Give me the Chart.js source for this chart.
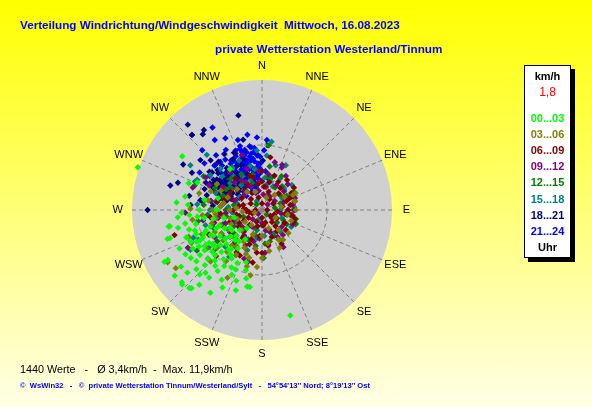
<!DOCTYPE html>
<html>
<head>
<meta charset="utf-8">
<script src="https://cdn.jsdelivr.net/npm/chart.js@4/dist/chart.umd.min.js"></script>
<style>
  body { margin: 0; }
  #wrap { position: relative; width: 592px; height: 407px; overflow: hidden;
          background: linear-gradient(#ffff00, #ffffe6); font-family: "Liberation Sans", Arial, sans-serif; }
  #chart { position: absolute; left: 0; top: 0; }
  .txt { position: absolute; white-space: pre; line-height: 14px; }
  .title { color: #0000ff; font-weight: bold; font-size: 11.7px; }
  #legend { position: absolute; left: 524px; top: 65px; width: 45px; height: 191px;
            background: #fff; border: 1px solid #000; box-shadow: 4px 4px 0 #000; }
  #legend div { position: absolute; left: 0; width: 45px; text-align: center; font-weight: bold;
                font-size: 11px; line-height: 14px; }
</style>
</head>
<body>
<div id="wrap">
  <canvas id="chart" width="592" height="407"></canvas>
  <div class="txt title" style="left:20px; top:18px;">Verteilung Windrichtung/Windgeschwindigkeit  Mittwoch, 16.08.2023</div>
  <div class="txt title" style="left:215px; top:42px;">private Wetterstation Westerland/Tinnum</div>
  <div id="legend"></div>
  <div class="txt" style="left:20px; top:362px; font-size:10.8px; color:#000;">1440 Werte   -   Ø 3,4km/h  -  Max. 11,9km/h</div>
  <div class="txt" style="left:20px; top:379px; font-size:7.6px; font-weight:bold; color:#0000ff;">©  WsWin32   -   ©  private Wetterstation Tinnum/Westerland/Sylt   -   54°54'13'' Nord; 8°19'13'' Ost</div>
</div>
<script>
// wind rose labels and rings
const dirLabels = ['N','NNE','NE','ENE','E','ESE','SE','SSE','S','SSW','SW','WSW','W','WNW','NW','NNW'];
const maxSpeed = 10;
const ringSpeeds = [5];
const meanText = '1,8';

// hour groups [label, colour]
const groupLabels = ['00...03','03...06','06...09','09...12','12...15','15...18','18...21','21...24'];
const groupColors = ['#00ff00','#808000','#800000','#800080','#008000','#008080','#000080','#0000ff'];

// readings: [direction in degrees, speed in km/h]
const h00_03 = [[289,10.1],[304,7.4],[165,8.4],[260,7.3],[253,7.4],[242,8.5],[228,8.3],[222,8.1],[207,6.7],[191,6.0],
  [193,5.4],[230,7.5],[275,6.6],[293,5.4],[322,4.0],[260,7.2],[258,6.6],[253,7.6],[242,8.2],[233,8.4],
  [227,8.4],[223,8.2],[220,7.5],[224,6.9],[222,6.5],[212,7.5],[241,6.1],[235,7.6],[226,6.1],[189,6.0],
  [195,4.8],[197,4.2],[230,4.2],[222,3.1],[244,4.4],[244,5.3],[215,4.2],[223,5.3],[228,2.3],[244,3.2],
  [235,5.4],[253,5.4],[266,5.6],[274,5.7],[238,4.8],[218,4.8],[232,3.6],[248,3.8],[236,2.8],[226,3.8],
  [212,3.5],[205,4.5],[250,4.6],[262,4.5],[270,4.8],[280,4.5],[285,3.5],[258,3.0],[210,2.6],[240,6.8],
  [250,6.2],[232,6.4],[216,5.8],[205,5.5],[198,6.5],[265,6.5],[245,7.0],[270,3.5],[255,2.2],[220,1.8],
  [290,6.0],[280,6.0],[230,5.0],[235,4.6],[240,5.6],[245,5.0],[250,5.4],[255,5.8],[260,6.0],[238,3.8],
  [232,4.6],[226,5.0],[220,5.6],[214,5.2],[208,5.0],[212,4.4],[218,3.8],[224,4.5],[228,5.6],[234,5.9],
  [242,4.2],[248,4.8],[252,4.2],[258,5.2],[264,5.0],[268,6.2],[246,6.0],[236,6.6],[228,6.8],[218,6.6],
  [210,6.2],[204,5.0],[200,5.8],[216,3.0],[225,2.8],[240,2.8],[250,3.5],[260,3.8],[230,3.2],[220,4.0],
  [238,5.2],[244,5.6]];
const h03_06 = [[64,2.65],[131,2.7],[145,2.8],[207,5.85],[190,5.1],[180,3.7],[241,8.3],[236,8.0],[63,2.9],[151,2.6],
  [170,2.6],[100,2.0],[80,1.5],[40,1.5],[271,5.5],[262,5.4],[250,6.0],[230,4.5],[220,3.6],[240,3.0],
  [255,2.5],[210,2.8],[200,2.0],[225,2.2],[245,4.0],[260,3.6],[275,3.2],[290,2.8],[300,4.0],[285,5.0],
  [235,5.2],[215,4.8],[195,4.5],[180,2.0],[160,1.5],[120,1.2],[20,1.0],[340,1.5],[310,2.5],[265,1.5],
  [232,3.8],[248,5.0],[205,3.2],[60,2.0],[75,2.6],[90,2.6],[110,2.4],[140,2.0],[155,3.2],[190,3.0],
  [215,1.4],[235,1.6],[250,2.0],[270,2.5],[280,4.2],[295,3.5],[320,1.8],[265,4.6],[245,6.0],[225,5.6],
  [200,3.6],[210,4.0],[220,4.2],[230,3.2],[240,3.6],[250,3.4],[260,3.0],[270,3.8],[280,3.0],[290,4.2],
  [255,4.0],[265,3.6],[275,2.0],[245,2.6],[235,4.6],[225,3.0],[215,3.4],[195,3.8],[185,4.4],[170,3.2],
  [250,0.6]];
const h06_09 = [[9,4.1],[66,2.5],[111,2.6],[187,3.3],[180,3.3],[206,3.9],[211,3.8],[175,1.2],[67,2.3],[190,4.1],
  [254,7.0],[20,1.5],[45,1.8],[80,1.6],[100,1.8],[120,1.3],[140,1.6],[160,2.2],[200,2.0],[220,1.5],
  [240,1.2],[260,1.0],[300,1.0],[330,1.5],[350,2.0],[30,2.5],[60,1.0],[90,2.0],[130,2.4],[150,3.0],
  [170,2.7],[195,1.3],[215,2.6],[235,2.2],[280,1.8],[310,2.4],[340,2.8],[0,3.0],[55,3.0],[75,2.6],
  [105,2.6],[125,0.8],[230,3.2],[250,2.6],[270,2.2],[285,3.0],[320,3.2],[15,2.2],[40,3.0],[110,1.0],
  [200,2.8],[245,4.5],[225,5.0],[262,4.0],[250,0.8],[275,1.4],[290,2.6],[265,3.2],[240,2.0],[225,2.8],
  [205,1.0],[185,2.0],[165,1.0],[145,2.0],[95,1.2],[70,2.0],[35,1.0],[5,1.8],[345,1.0],[320,2.0],
  [300,2.8],[280,3.5],[240,1.6],[255,1.8],[270,1.2],[285,1.5],[300,1.8],[315,1.2],[330,2.2],[345,2.6],
  [0,2.2],[20,2.8],[40,2.2],[60,2.6],[80,2.2],[100,2.3],[120,2.0],[140,1.2],[160,1.6],[200,2.4],
  [220,2.2],[260,2.0],[0,0.5],[90,0.4],[180,0.6],[270,0.5]];
const h09_12 = [[25,3.6],[24,3.8],[195,4.1],[268,5.9],[288,5.6],[243,6.4],[176,3.3],[200,4.0],[30,2.2],[45,2.8],
  [60,2.0],[80,2.4],[100,1.5],[120,2.0],[140,2.5],[160,1.8],[180,1.0],[210,1.5],[230,2.0],[250,3.0],
  [270,2.5],[290,2.2],[310,1.8],[330,2.5],[350,1.5],[10,2.8],[70,2.7],[90,2.5],[150,3.3],[220,3.5],
  [240,4.2],[260,4.6],[280,4.0],[300,3.5],[320,3.8],[340,4.5],[5,1.2],[130,1.0],[195,2.5],[255,2.0],
  [300,5.0],[265,1.2],[245,2.5],[225,1.0],[205,3.0],[185,2.2],[170,2.8],[115,2.6],[95,2.0],[55,1.2],
  [35,3.2],[15,3.8],[355,3.0],[335,2.0],[315,3.0],[295,4.5],[275,3.2],[255,3.8],[250,2.4],[265,2.8],
  [280,3.0],[295,2.8],[310,2.6],[325,2.8],[340,3.4],[355,2.2],[10,1.8],[30,1.2],[50,2.2],[70,1.8],
  [100,2.4],[130,2.0],[150,2.4],[170,1.6],[190,3.0],[215,2.4],[235,3.0],[260,3.4],[45,0.6],[225,0.4]];
const h12_15 = [[17,2.65],[101,1.95],[112,2.8],[166,2.5],[6,5.0],[238,5.9],[228,5.6],[11,2.6],[98,1.9],[145,2.8],
  [113,2.8],[178,3.7],[155,2.2],[290,5.5],[300,5.2],[260,5.0],[250,4.0],[270,3.5],[240,2.5],[220,2.0],
  [200,1.5],[180,1.2],[130,1.5],[80,1.0],[50,1.8],[30,2.0],[350,1.5],[320,2.0],[280,2.2],[250,1.5],
  [215,3.5],[230,4.8],[265,4.2],[285,3.0],[300,3.2],[60,2.8],[70,1.5],[120,2.2],[190,2.8],[205,2.5],
  [310,2.6],[330,3.2],[340,2.2],[10,3.4],[20,1.2],[40,2.4],[90,2.4],[105,2.7],[140,2.0],[165,1.6],
  [195,2.0],[210,4.0],[245,3.2],[275,4.5],[295,4.0],[260,2.8],[230,2.8],[240,3.6],[250,3.2],[255,2.5],
  [265,3.4],[270,2.8],[280,3.6],[290,3.2],[305,3.0],[315,3.4],[325,2.6],[345,2.8],[0,2.2],[30,3.0],
  [60,2.2],[115,1.8],[150,2.6],[175,2.6],[220,3.2],[235,4.2],[135,0.5],[315,0.6]];
const h15_18 = [[302,6.5],[293,5.6],[315,6.0],[304,4.8],[8,5.3],[5,4.2],[17,3.6],[28,3.9],[48,2.3],[16,2.3],
  [241,6.3],[248,5.7],[245,5.4],[112,1.65],[154,2.0],[194,1.6],[90,1.4],[330,3.0],[320,2.5],[280,3.0],
  [260,3.5],[240,3.0],[230,2.2],[300,2.0],[350,2.0],[40,1.5],[60,1.8],[75,2.6],[100,2.2],[130,1.5],
  [210,2.5],[225,4.0],[255,4.5],[270,4.0],[290,3.8],[310,3.2],[325,4.0],[340,2.5],[20,1.2],[200,3.3],
  [215,4.4],[265,2.3],[285,2.0],[235,5.0],[250,3.0],[345,3.5],[355,4.6],[0,3.0],[10,2.0],[30,2.8],
  [50,3.0],[85,2.5],[120,2.6],[175,2.0],[230,4.5],[275,5.0],[295,5.5],[315,4.5],[305,2.8],[245,2.2],
  [255,2.0],[262,3.0],[275,2.6],[290,2.8],[300,3.4],[310,4.0],[320,3.4],[335,4.2],[350,3.2],[5,2.5],
  [25,2.0],[45,2.4],[65,2.4],[90,2.0],[110,2.6],[140,2.2],[190,2.2],[220,3.0],[235,3.6],[200,0.8],
  [330,0.8]];
const h18_21 = [[346,7.5],[319,8.7],[324,7.6],[322,7.4],[317,7.9],[285,7.3],[270,8.8],[281,5.7],[274,5.5],[279,4.8],
  [295,4.2],[304,4.2],[314,5.5],[309,6.1],[345,5.6],[1,3.8],[298,6.1],[288,6.8],[300,7.0],[300,3.5],
  [310,3.8],[320,4.2],[315,3.0],[305,2.8],[325,3.5],[330,4.5],[295,3.2],[290,2.5],[318,5.0],[312,4.6],
  [328,2.8],[335,3.8],[302,4.4],[308,2.3],[322,3.2],[316,4.0],[298,2.0],[326,5.2],[334,4.9],[340,4.2],
  [292,4.0],[306,5.0],[318,2.6],[286,3.3],[311,3.3],[329,3.9],[338,3.0],[303,3.7],[296,4.8],[280,4.0],
  [285,4.4],[290,3.6],[295,3.0],[300,4.2],[305,3.4],[310,2.9],[315,3.6],[320,2.8],[285,2.8],[290,4.7],
  [295,4.1],[300,2.6],[305,4.0],[310,4.4],[275,3.8],[280,3.0],[288,2.2],[298,3.8],[303,2.2],[308,3.5],
  [313,2.4],[318,3.4],[323,4.0],[278,4.6],[283,3.5],[293,2.6],[297,4.5],[307,4.8],[326,3.0]];
const h21_24 = [[340,3.5],[345,3.8],[335,3.2],[350,4.0],[330,3.0],[342,4.4],[338,2.8],[348,3.1],[355,3.6],[332,4.1],
  [326,3.6],[344,4.8],[352,4.5],[336,4.0],[340,2.5],[346,2.9],[330,2.4],[322,3.1],[334,4.6],[356,2.8],
  [349,5.0],[341,5.2],[328,4.5],[318,3.6],[324,2.6],[338,3.7],[343,3.3],[333,3.5],[347,4.2],[353,3.3],
  [358,4.1],[339,4.3],[331,3.9],[327,3.3],[345,2.4],[320,4.2],[336,5.0],[351,2.6],[343,4.0],[337,3.0],
  [315,6.5],[326,6.5],[333,6.2],[349,5.9],[341,5.7],[301,5.6],[309,5.7],[4,5.4],[355,4.3],[329,7.4],
  [317,7.9],[313,5.0],[320,5.5],[2,4.6],[5,3.0],[10,2.5],[356,5.6],[310,3.4],[315,3.8],[320,3.3],
  [325,4.0],[330,4.4],[335,4.8],[340,5.0],[345,4.6],[350,4.9],[355,4.2],[312,4.2],[318,4.6],[323,2.8],
  [328,2.5],[333,2.7],[338,4.1],[342,3.6],[347,3.9],[352,3.0],[354,2.4],[308,2.9],[316,2.6],[321,3.7],
  [326,4.3],[331,3.3],[336,3.4],[341,4.7],[346,3.4],[351,3.8],[357,3.2],[314,5.0],[319,4.9],[324,4.8],
  [329,5.4],[334,2.9],[339,3.9],[344,2.2],[349,4.4],[353,4.8],[358,3.6],[300,4.2],[305,3.8],[310,2.4],
  [315,2.0],[320,1.8],[325,2.2],[330,1.6],[335,1.9],[340,1.4],[345,1.8],[350,2.0],[300,3.0],[306,3.2],
  [312,1.6],[318,3.0],[296,3.6],[303,4.8],[322,2.3],[332,2.1],[342,2.0]];
const latest = [[349,2.1],[352,2.7]];

const groups = [h00_03, h03_06, h06_09, h09_12, h12_15, h15_18, h18_21, h21_24];

const toXY = pts => pts.map(([d, s]) => ({
  x: s * Math.sin(d * Math.PI / 180),
  y: s * Math.cos(d * Math.PI / 180)
}));

// legend box
const legend = document.getElementById('legend');
const addRow = (text, color, top, bold) => {
  const d = document.createElement('div');
  d.textContent = text;
  d.style.color = color;
  d.style.top = top + 'px';
  if (!bold) d.style.fontWeight = 'normal', d.style.fontSize = '12px';
  legend.appendChild(d);
};
addRow('km/h', '#000', 3, true);
addRow(meanText, '#ff0000', 19, false);
groupLabels.forEach((g, i) => addRow(g, groupColors[i], 45 + i * 16.1, true));
addRow('Uhr', '#000', 174, true);

const rosePlugin = {
  id: 'rose',
  beforeDatasetsDraw(chart) {
    const { ctx, scales: { x, y } } = chart;
    const cx = x.getPixelForValue(0), cy = y.getPixelForValue(0);
    const px = v => x.getPixelForValue(v) - cx;
    ctx.save();
    ctx.fillStyle = '#d0d0d0';
    ctx.beginPath();
    ctx.arc(cx, cy, px(maxSpeed), 0, 2 * Math.PI);
    ctx.fill();

    ctx.strokeStyle = '#808080';
    ctx.lineWidth = 1;
    ctx.setLineDash([4, 3]);
    dirLabels.forEach((lab, i) => {
      const a = i * 22.5 * Math.PI / 180;
      ctx.beginPath();
      ctx.moveTo(cx, cy);
      ctx.lineTo(x.getPixelForValue(maxSpeed * Math.sin(a)), y.getPixelForValue(maxSpeed * Math.cos(a)));
      ctx.stroke();
    });
    ringSpeeds.forEach(s => {
      ctx.beginPath();
      ctx.arc(cx, cy, px(s), 0, 2 * Math.PI);
      ctx.stroke();
    });
    ctx.setLineDash([]);

    ctx.fillStyle = '#000';
    ctx.font = '11px "Liberation Sans", Arial, sans-serif';
    ctx.textAlign = 'center';
    ctx.textBaseline = 'middle';
    dirLabels.forEach((lab, i) => {
      const a = i * 22.5 * Math.PI / 180;
      const r = maxSpeed * 1.11;
      ctx.fillText(lab, x.getPixelForValue(r * Math.sin(a)), y.getPixelForValue(r * Math.cos(a)));
    });
    ctx.font = '10px "Liberation Sans", Arial, sans-serif';
    ctx.textAlign = 'left';
    ringSpeeds.forEach(s => ctx.fillText(String(s), cx + 3, cy - px(s)));
    ctx.restore();
  }
};

const datasets = groups.map((g, i) => ({
  label: groupLabels[i],
  data: toXY(g),
  backgroundColor: groupColors[i],
  borderColor: groupColors[i],
  borderWidth: 0,
  pointStyle: 'rectRot',
  pointRadius: 3.2,
  pointHoverRadius: 3.2,
  clip: false
}));
datasets.push({
  label: 'aktuell',
  data: toXY(latest),
  backgroundColor: '#ff00ff',
  borderWidth: 0,
  pointStyle: 'rectRot',
  pointRadius: 3.2,
  clip: false
});

new Chart(document.getElementById('chart'), {
  type: 'scatter',
  data: { datasets: datasets },
  options: {
    responsive: false,
    animation: false,
    events: [],
    layout: { padding: { left: 132, right: 200, top: 80, bottom: 67 } },
    scales: {
      x: { type: 'linear', min: -maxSpeed, max: maxSpeed, display: false },
      y: { type: 'linear', min: -maxSpeed, max: maxSpeed, display: false }
    },
    plugins: { legend: { display: false }, tooltip: { enabled: false } }
  },
  plugins: [rosePlugin]
});
</script>
</body>
</html>
